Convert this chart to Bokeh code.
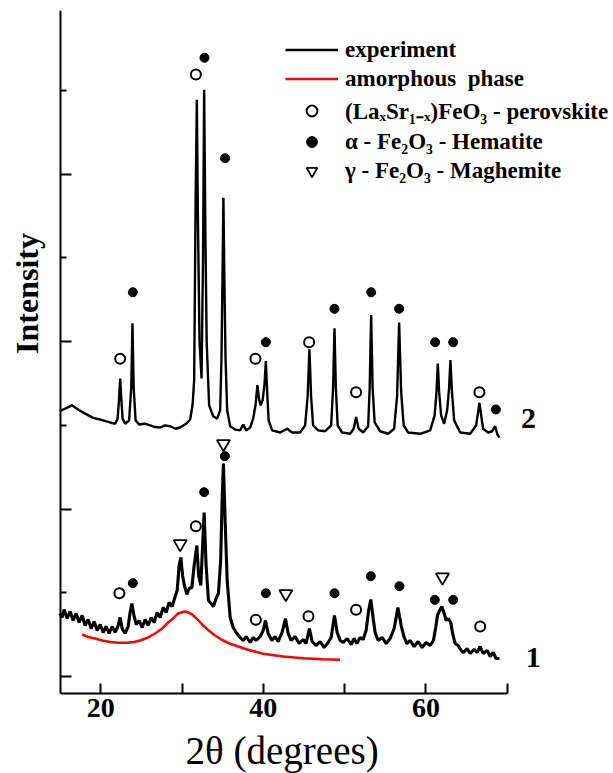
import math
from bokeh.plotting import figure
from bokeh.models import Range1d, FixedTicker, Legend, LegendItem, Label
from bokeh.embed import file_html
from bokeh.resources import INLINE

# ---------------- data ----------------
# pattern 2 (upper curve)
two_theta_2 = [
    14.96, 15.62, 16.45, 17.22, 18.08, 19.07, 19.93, 21.16, 21.77, 22.08,
    22.24, 22.39, 22.54, 22.69, 23.00, 23.49, 23.75, 23.90, 24.05, 24.29,
    24.72, 25.40, 26.08, 26.70, 27.31, 27.90, 28.54, 29.20, 29.77, 30.50,
    31.00, 31.30, 31.49, 31.67, 31.82, 31.95, 32.15, 32.40, 32.58, 32.72,
    32.88, 33.03, 33.33, 33.83, 34.32, 34.69, 34.85, 34.98, 35.09, 35.20,
    35.35, 35.55, 35.92, 36.53, 37.15, 37.52, 37.89, 38.38, 38.75, 39.05,
    39.27, 39.50, 39.67, 39.91, 40.15, 40.31, 40.47, 40.65, 41.08, 42.07,
    42.93, 43.54, 44.53, 45.14, 45.45, 45.67, 45.87, 46.12, 46.74, 47.60,
    48.34, 48.58, 48.75, 48.92, 49.14, 49.69, 50.68, 51.11, 51.41, 51.72,
    52.28, 52.89, 53.08, 53.26, 53.44, 53.69, 54.37, 55.35, 56.09, 56.45,
    56.70, 56.95, 57.26, 57.81, 59.29, 60.52, 61.07, 61.30, 61.46, 61.62,
    61.87, 62.24, 62.61, 62.85, 63.01, 63.20, 63.47, 64.21, 65.44, 66.17,
    66.40, 66.58, 66.78, 67.03, 67.65, 68.14, 68.51, 68.76, 69.04,
]
intensity_2 = [
    31.7, 32.0, 32.4, 31.9, 31.4, 30.9, 30.7, 30.35, 30.2, 30.8,
    33.0, 35.6, 33.0, 30.8, 30.2, 30.6, 34.5, 42.2, 34.5, 30.6,
    30.1, 30.2, 30.0, 29.8, 29.75, 30.0, 29.9, 29.6, 29.75, 30.2,
    30.7, 32.5, 35.4, 56.9, 68.9, 55.0, 40.0, 35.6, 50.0, 70.1,
    52.0, 40.0, 32.4, 31.1, 30.8, 31.8, 38.0, 48.0, 57.2, 48.0,
    38.0, 31.8, 29.9, 29.5, 29.4, 30.1, 29.4, 29.75, 30.8, 32.5,
    34.8, 33.0, 32.4, 33.0, 35.0, 37.7, 34.0, 30.6, 29.4, 29.15,
    29.6, 29.15, 29.15, 30.0, 33.5, 39.1, 33.5, 30.0, 29.4, 29.3,
    30.0, 34.5, 41.6, 34.5, 30.0, 29.15, 29.0, 29.6, 31.0, 29.6,
    29.15, 29.9, 34.5, 43.2, 34.5, 30.35, 29.3, 29.0, 29.6, 33.5,
    42.3, 34.0, 30.0, 29.15, 29.0, 29.4, 31.2, 34.0, 37.4, 34.0,
    31.2, 30.2, 31.8, 34.5, 37.8, 34.0, 30.6, 29.15, 29.0, 30.0,
    31.5, 32.7, 31.3, 29.6, 29.15, 29.3, 29.9, 29.0, 28.55,
]

# pattern 1 (lower curve)
two_theta_1 = [
    14.96, 15.25, 15.50, 15.87, 16.24, 16.61, 16.97, 17.34, 17.71, 18.08,
    18.45, 18.82, 19.19, 19.56, 19.93, 20.30, 20.66, 21.03, 21.40, 21.77,
    22.14, 22.39, 22.63, 23.00, 23.37, 23.61, 23.83, 24.11, 24.36, 24.72,
    25.09, 25.46, 25.83, 26.20, 26.57, 26.94, 27.31, 27.68, 28.04, 28.41,
    28.78, 29.15, 29.40, 29.64, 29.85, 30.07, 30.26, 30.59, 30.87, 31.21,
    31.49, 31.82, 32.04, 32.31, 32.53, 32.72, 32.96, 33.25, 33.58, 33.86,
    34.19, 34.48, 34.75, 34.93, 35.09, 35.30, 35.55, 35.92, 36.29, 36.74,
    37.15, 37.52, 37.89, 38.38, 38.75, 39.11, 39.61, 39.98, 40.26, 40.59,
    41.05, 41.45, 41.82, 42.31, 42.72, 43.05, 43.42, 43.91, 44.40, 44.90,
    45.26, 45.67, 46.00, 46.49, 46.99, 47.48, 47.97, 48.34, 48.75, 49.08,
    49.45, 49.82, 50.31, 50.80, 51.17, 51.50, 51.91, 52.28, 52.64, 52.95,
    53.22, 53.51, 53.75, 54.12, 54.61, 55.11, 55.60, 56.09, 56.55, 56.95,
    57.32, 57.65, 58.06, 58.55, 59.04, 59.53, 60.03, 60.52, 60.92, 61.20,
    61.42, 61.69, 61.96, 62.24, 62.49, 62.73, 63.06, 63.28, 63.59, 63.96,
    64.33, 64.61, 65.07, 65.44, 65.93, 66.30, 66.67, 67.04, 67.53, 67.90,
    68.27, 68.64, 69.04,
]
intensity_1 = [
    7.53, 7.05, 8.00, 6.93, 7.77, 6.69, 7.53, 6.45, 7.29, 6.09,
    6.81, 5.73, 6.57, 5.50, 6.21, 5.26, 6.00, 5.14, 5.97, 5.26,
    6.09, 7.05, 5.73, 5.14, 5.97, 7.65, 8.72, 7.17, 6.21, 6.69,
    5.85, 6.81, 6.09, 7.05, 6.45, 7.65, 7.05, 8.24, 7.65, 8.84,
    8.36, 9.56, 10.27, 13.26, 14.22, 12.07, 10.99, 9.80, 10.51, 10.63,
    13.26, 15.65, 12.07, 10.87, 15.65, 19.59, 13.26, 9.08, 8.72, 8.36,
    9.32, 9.92, 13.86, 21.03, 25.45, 18.64, 11.47, 7.05, 5.85, 5.14,
    4.66, 4.30, 4.78, 4.06, 4.66, 4.30, 4.78, 5.50, 6.69, 5.14,
    4.30, 4.78, 4.18, 5.26, 6.93, 5.14, 4.30, 4.78, 3.94, 4.42,
    3.94, 5.73, 4.18, 3.70, 4.18, 3.46, 4.06, 4.66, 7.29, 5.26,
    4.30, 4.06, 4.54, 3.82, 4.54, 3.94, 4.66, 4.42, 5.50, 7.89,
    9.20, 6.93, 5.26, 4.30, 4.66, 3.94, 4.54, 5.73, 8.24, 6.09,
    4.66, 3.94, 4.30, 3.58, 4.18, 3.46, 4.06, 3.70, 4.30, 5.85,
    7.29, 7.89, 8.36, 7.53, 6.69, 6.93, 6.45, 5.14, 3.94, 3.70,
    3.11, 2.87, 3.35, 2.75, 3.23, 2.87, 3.58, 2.75, 3.11, 2.39,
    2.87, 2.15, 2.15,
]

# amorphous phase (red)
amorphous_theta = [17.71, 18.45, 19.31, 20.17, 21.16, 22.14, 23.21, 24.11, 24.85, 25.83,
                   26.69, 27.55, 28.29, 28.90, 29.52, 29.89, 30.38, 30.75, 31.24, 31.86,
                   32.47, 33.21, 34.07, 34.93, 35.92, 38.01, 39.98, 42.44, 44.90, 47.23,
                   49.45]
amorphous_int = [5.02, 4.72, 4.54, 4.30, 4.12, 4.04, 4.03, 4.12, 4.30, 4.66,
                 5.14, 5.73, 6.45, 6.93, 7.53, 7.65, 7.77, 7.67, 7.41, 6.87,
                 6.21, 5.56, 4.90, 4.36, 3.91, 3.23, 2.71, 2.39, 2.19, 2.07,
                 1.99]

# phase markers
perovskite_x = [22.39, 31.70, 39.03, 45.63, 51.41, 66.58, 22.30, 31.70, 39.08, 45.55, 51.41, 66.67]
perovskite_y = [37.96, 71.92, 37.96, 39.94, 33.97, 33.97, 9.95, 17.96, 6.77, 7.20, 7.97, 5.97]
hematite_x = [23.95, 32.76, 35.30, 40.31, 48.75, 53.26, 56.70, 61.13, 63.35, 68.60,
              23.95, 32.72, 35.26, 40.31, 48.75, 53.22, 56.74, 61.09, 63.35]
hematite_y = [45.91, 73.92, 61.92, 39.94, 43.93, 45.91, 43.93, 39.94, 39.94, 31.90,
              11.15, 22.02, 26.32, 9.95, 9.95, 11.98, 10.79, 9.16, 9.16]
maghemite_x = [29.77, 35.09, 42.77, 62.03]
maghemite_y = [15.85, 27.80, 9.88, 11.86]

x_major = [20, 40, 60]
x_minor = [30, 50, 70]
y_major = [0, 20, 40, 60]
y_minor = [10, 30, 50, 70]

curve_labels = ["2", "1"]
curve_label_x = [72.6, 73.2]
curve_label_y = [30.8, 2.3]

legend_labels = ["experiment", "amorphous  phase",
                 "(La\u2093Sr\u2081\u208b\u2093)FeO\u2083 - perovskite",
                 "\u03b1 - Fe\u2082O\u2083 - Hematite",
                 "\u03b3 - Fe\u2082O\u2083 - Maghemite"]

SERIF = "Liberation Serif"

# ---------------- figure ----------------
# The frame spans the whole page so that the legend, the curve numbers and the
# axis titles are not clipped; the axes are pinned to the data box and bounded.
p = figure(width=613, height=773, output_backend="svg", toolbar_location=None,
           x_range=Range1d(7.67, 83.07), y_range=Range1d(-11.59, 79.57),
           min_border_left=0, min_border_right=0, min_border_top=10,
           min_border_bottom=0)
p.outline_line_color = None
p.grid.visible = False
p.background_fill_color = "white"
p.border_fill_color = "white"

l2 = p.line(two_theta_2, intensity_2, line_color="black", line_width=2.4)
l1 = p.line(two_theta_1, intensity_1, line_color="black", line_width=3.1)
red = p.line(amorphous_theta, amorphous_int, line_color="#ff0000", line_width=2.5)
s_per = p.scatter(perovskite_x, perovskite_y, marker="circle", size=10,
                  fill_color="white", line_color="black", line_width=2)
s_hem = p.scatter(hematite_x, hematite_y, marker="circle", size=9,
                  fill_color="black", line_color="black")
s_mag = p.scatter(maghemite_x, maghemite_y, marker="inverted_triangle", size=13,
                  fill_color="white", line_color="black", line_width=1.8)

# axes
xa = p.xaxis[0]
xa.fixed_location = -2.03
xa.bounds = (15, 70)
xa.ticker = FixedTicker(ticks=x_major, minor_ticks=x_minor)
xa.axis_line_width = 2
xa.major_tick_line_width = 2
xa.minor_tick_line_width = 2
xa.major_tick_in = 10
xa.major_tick_out = 0
xa.minor_tick_in = 10
xa.minor_tick_out = 0
xa.major_label_text_font = SERIF
xa.major_label_text_font_size = "28px"
xa.major_label_text_font_style = "bold"
xa.major_label_text_color = "black"
xa.major_label_standoff = 6

ya = p.yaxis[0]
ya.fixed_location = 15
ya.bounds = (-2.03, 79.57)
ya.ticker = FixedTicker(ticks=y_major, minor_ticks=y_minor)
ya.axis_line_width = 2
ya.major_tick_line_width = 2
ya.minor_tick_line_width = 2
ya.major_tick_in = 11
ya.major_tick_out = 0
ya.minor_tick_in = 6
ya.minor_tick_out = 0
ya.major_label_overrides = {t: "" for t in y_major}
ya.major_label_standoff = 0

# axis titles (placed where the original has them)
p.add_layout(Label(x=10.95, y=45.76, text="Intensity", angle=math.pi / 2,
                   text_font=SERIF, text_font_size="32px", text_font_style="bold",
                   text_align="center", text_baseline="middle", text_color="black"))
p.add_layout(Label(x=42.31, y=-8.8, text="2\u03b8 (degrees)",
                   text_font=SERIF, text_font_size="39px", text_font_style="normal",
                   text_align="center", text_baseline="alphabetic", text_color="black"))

# curve numbers
for t, cx, cy in zip(curve_labels, curve_label_x, curve_label_y):
    p.add_layout(Label(x=cx, y=cy, text=t, text_font=SERIF, text_font_size="30px",
                       text_font_style="bold", text_align="center",
                       text_baseline="middle", text_color="black"))

legend = Legend(items=[
    LegendItem(label=legend_labels[0], renderers=[l2]),
    LegendItem(label=legend_labels[1], renderers=[red]),
    LegendItem(label=legend_labels[2], renderers=[s_per]),
    LegendItem(label=legend_labels[3], renderers=[s_hem]),
    LegendItem(label=legend_labels[4], renderers=[s_mag]),
], location=(285, 589))
legend.padding = 0
legend.margin = 0
legend.spacing = 2
legend.glyph_width = 53
legend.glyph_height = 27
legend.label_height = 27
legend.label_standoff = 7
legend.border_line_color = None
legend.background_fill_alpha = 0
legend.label_text_font = SERIF
legend.label_text_font_size = "23px"
legend.label_text_font_style = "bold"
legend.label_text_color = "black"
p.add_layout(legend)

open("out.html", "w").write(file_html(p, INLINE))
